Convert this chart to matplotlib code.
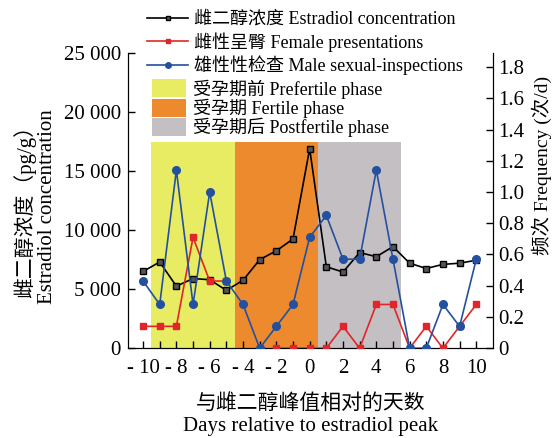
import matplotlib.pyplot as plt
import numpy as np
from matplotlib.patches import Patch
from matplotlib.lines import Line2D
from matplotlib.ticker import FuncFormatter

plt.rcParams['font.family'] = ['Liberation Serif', 'Noto Sans CJK SC']
plt.rcParams['font.size'] = 15
plt.rcParams['axes.unicode_minus'] = False

days = np.arange(-10, 11)
estradiol = [6500, 7300, 5250, 5900, 5800, 4900, 5750, 7500, 8250, 9250, 16900,
             6900, 6450, 8100, 7750, 8600, 7200, 6750, 7100, 7200, 7450]
female = [0.14, 0.14, 0.14, 0.71, 0.43, 0.43, np.nan, np.nan, 0, 0, 0,
          0, 0.14, 0, 0.28, 0.28, 0, 0.14, 0, 0.14, 0.28]
male = [0.43, 0.28, 1.14, 0.28, 1.0, 0.43, 0.28, 0, 0.14, 0.28, 0.71,
        0.85, 0.57, 0.57, 1.14, 0.57, 0, 0, 0.28, 0.14, 0.57]

phases = ['受孕期前 Prefertile phase', '受孕期 Fertile phase', '受孕期后 Postfertile phase']
phase_start = [-9.5, -4.5, 0.5]
phase_end = [-4.5, 0.5, 5.5]
phase_top = 17500
phase_colors = ['#E8EC62', '#EE8A2E', '#C4BFC3']

fig = plt.figure(figsize=(5.52, 4.38), dpi=100)
ax = fig.add_axes([0.232, 0.205, 0.661, 0.674])
ax2 = ax.twinx()

for s, e, c in zip(phase_start, phase_end, phase_colors):
    ax.fill_between([s, e], 0, phase_top, color=c, lw=0, zorder=0)

ax.plot(days, estradiol, color='black', lw=1.2, marker='s', ms=4.5,
        mfc='#555555', mec='black', mew=1.0, zorder=3)
ax2.plot(days, female, color='#E0262A', lw=1.2, marker='s', ms=4.5, zorder=3)
ax2.plot(days, male, color='#2450A0', lw=1.2, marker='o', ms=5.5, zorder=4)

ax.set_xlim(-10.9, 11.0)
ax.set_ylim(0, 25000)
ax2.set_ylim(0, 1.89)
ax.set_xticks(np.arange(-10, 11, 2))
ax.set_xticks(days, minor=True)
ax.xaxis.set_major_formatter(FuncFormatter(lambda v, p: ('- %d' % -v) if v < 0 else '%d' % v))
ax.set_yticks(np.arange(0, 25001, 5000))
ax.yaxis.set_major_formatter(FuncFormatter(lambda v, p: '{:,}'.format(int(v)).replace(',', ' ')))
ax2.set_yticks(np.arange(0, 1.81, 0.2))
ax2.yaxis.set_major_formatter(FuncFormatter(lambda v, p: '0' if v == 0 else '%.1f' % v))

for a in (ax, ax2):
    a.spines['top'].set_visible(False)
    a.tick_params(direction='in', length=5, width=1, labelsize=15)
ax.tick_params(which='minor', direction='in', length=5, width=1)
ax.tick_params(axis='x', pad=8)
ax.tick_params(axis='y', pad=5)

ax.set_ylabel('雌二醇浓度（pg/g）\nEstradiol concentration', fontsize=15, linespacing=1.15)
ax.yaxis.set_label_coords(-0.194, 0.48)
ax2.set_ylabel('频次 Frequency (次/d)', fontsize=14)
ax2.yaxis.set_label_coords(1.106, 0.62)
ax.set_xlabel('与雌二醇峰值相对的天数\nDays relative to estradiol peak', fontsize=15,
              linespacing=1.15, labelpad=12)

line_handles = [
    Line2D([], [], color='black', lw=1.2, marker='s', ms=3.5, mfc='#555555', mec='black'),
    Line2D([], [], color='#E0262A', lw=1.2, marker='s', ms=3.5),
    Line2D([], [], color='#2450A0', lw=1.2, marker='o', ms=4),
]
line_labels = ['雌二醇浓度 Estradiol concentration', '雌性呈臀 Female presentations',
               '雄性性检查 Male sexual-inspections']
leg1 = fig.legend(line_handles, line_labels, loc='upper left', bbox_to_anchor=(0.266, 0.975),
                  frameon=False, fontsize=13, handlelength=2.3, handletextpad=0.3,
                  labelspacing=0.22, borderpad=0, borderaxespad=0)
patch_handles = [Patch(color=c, lw=0) for c in phase_colors]
leg2 = fig.legend(patch_handles, phases, loc='upper left', bbox_to_anchor=(0.275, 0.819),
                  frameon=False, fontsize=13, handlelength=1.9, handleheight=1.15,
                  handletextpad=0.4, labelspacing=0.0, borderpad=0, borderaxespad=0)

fig.savefig('out.png', dpi=100)
